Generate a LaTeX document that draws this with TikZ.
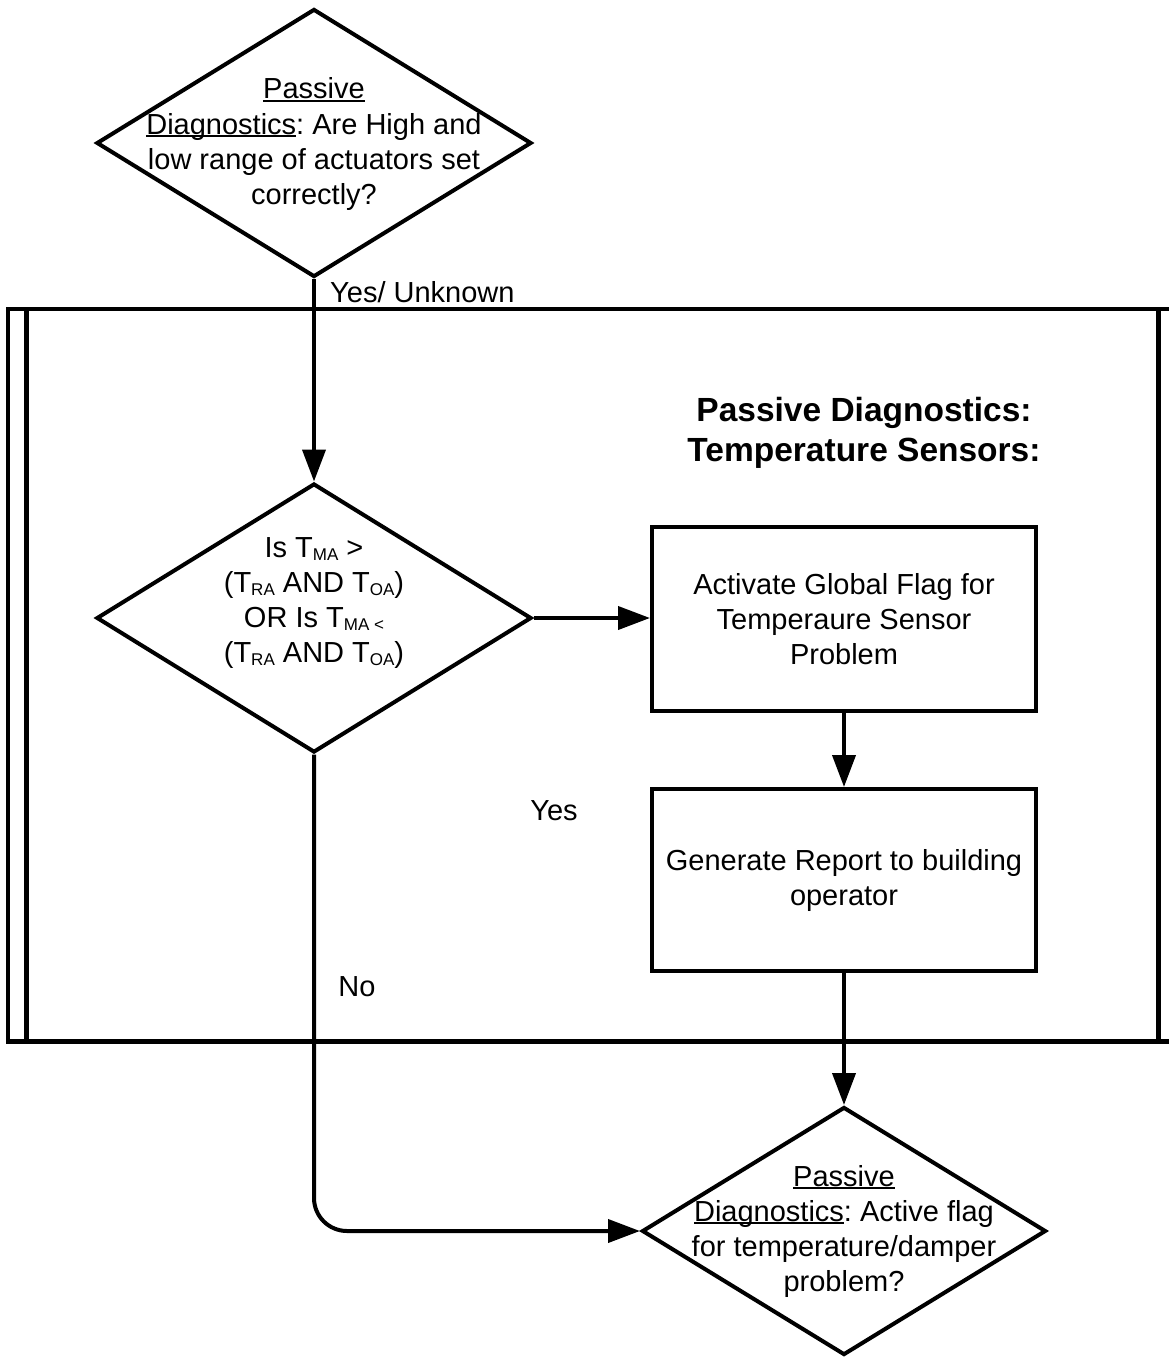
\documentclass[tikz,border=0pt]{standalone}
\usepackage{fontspec}
\setmainfont{Liberation Sans}
\usetikzlibrary{shapes.geometric,arrows.meta}
\frenchspacing
% underline set close under the baseline
\newcommand\ulword[1]{\setbox0\hbox{#1}\rlap{\rule[-3pt]{\wd0}{1.8pt}}\box0}
% small lowered index
\newcommand\idx[1]{\raisebox{-3pt}{\fontsize{17pt}{17pt}\selectfont #1}}
\tikzset{
  txt/.style={font=\fontsize{29pt}{35pt}\selectfont, align=center, inner sep=0pt},
  dia/.style={diamond, draw, line width=4pt, inner sep=0pt},
  stepbox/.style={rectangle, draw, line width=4pt, minimum width=384pt, txt},
  arr/.style={line width=4pt, -{Triangle[length=32pt,width=23pt]}},
  frame/.style={line width=4.5pt},
}
\begin{document}
\begin{tikzpicture}[x=1pt,y=-1pt]
\useasboundingbox (0,0) rectangle (1169,1357);

% enclosing subprocess frame, open on the right
\draw[frame] (1180,309) -- (8,309) -- (8,1041.5) -- (1180,1041.5);
\draw[frame, line width=5pt] (26,309) -- (26,1041.5);
\draw[frame, line width=5pt] (1158,309) -- (1158,1041.5);

\node[font=\bfseries\fontsize{33.5pt}{40pt}\selectfont, align=center, inner sep=0pt] (title) at (864,433)
  {Passive Diagnostics:\\Temperature Sensors:};

% decisions
\node[dia, minimum width=435pt, minimum height=268pt] (d1) at (314,143) {};
\node[txt] (t1) at (314,144) {\ulword{Passive}\\\ulword{Diagnostics}: Are High and\\low range of actuators set\\correctly?};

\node[dia, minimum width=435pt, minimum height=269pt] (d2) at (314,618) {};
\node[txt] (t2) at (314,603) {Is T\idx{MA} >\\(T\idx{RA} AND T\idx{OA})\\OR Is T\idx{MA <}\\(T\idx{RA} AND T\idx{OA})};

\node[dia, minimum width=404pt, minimum height=248pt] (d3) at (844,1231) {};
\node[txt] (t3) at (844,1231) {\ulword{Passive}\\\ulword{Diagnostics}: Active flag\\for temperature/damper\\problem?};

% actions
\node[stepbox, minimum height=184pt] (b1) at (844,619) {Activate Global Flag for\\Temperaure Sensor\\Problem};
\node[stepbox, minimum height=182pt] (b2) at (844,880) {Generate Report to building\\operator};

% connectors
\draw[arr] (d1.south) -- (d2.north);
\draw[arr] (d2.east) -- (d2.east -| b1.west);
\draw[arr] (b1.south) -- (b2.north);
\draw[arr] (b2.south) -- (d3.north);
\draw[arr, rounded corners=33pt] (d2.south) |- (d3.west);

% connector labels
\node[txt, anchor=west] (lyu) at (330,292) {Yes/ Unknown};
\node[txt] (lyes) at (554,811) {Yes};
\node[txt] (lno) at (357,987) {No};
\end{tikzpicture}
\end{document}
